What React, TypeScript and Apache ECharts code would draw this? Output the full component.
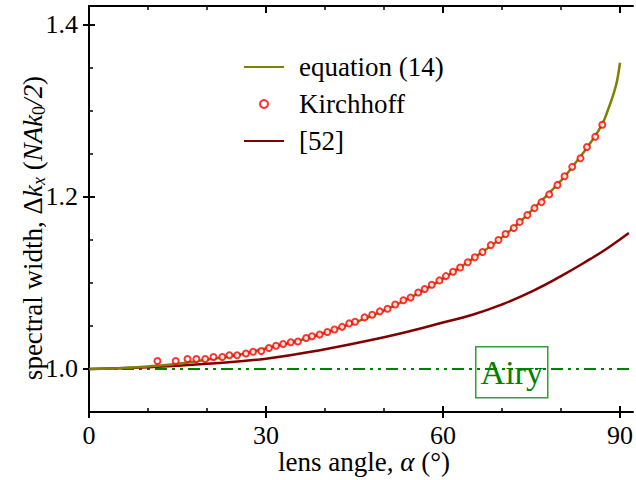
import React, { useEffect, useRef } from "react";
import * as echarts from "echarts";

// ---- data ----
const eqAngle = [0, 5, 10, 15, 20, 25, 30, 35, 40, 45, 50, 55, 60, 65, 70, 75, 80, 82.5, 85, 87, 88, 89, 89.5, 90];
const eqWidth = [1.0, 1.001, 1.003, 1.006, 1.011, 1.016, 1.024, 1.032, 1.042, 1.054, 1.068, 1.085, 1.105, 1.128, 1.153, 1.184, 1.219, 1.24, 1.263, 1.285, 1.302, 1.322, 1.335, 1.356];

const kirchAngle = [11.6, 14.7, 16.7, 18.2, 19.7, 21.1, 22.6, 23.8, 25.1, 26.6, 27.8, 29.2, 30.5, 31.7, 32.9, 34.2, 35.4, 36.8, 37.8, 39.1, 40.4, 41.6, 42.9, 44.1, 45.1, 46.7, 48.0, 49.3, 50.6, 51.9, 53.3, 54.5, 55.8, 56.9, 58.1, 59.4, 60.5, 61.7, 62.9, 64.2, 65.4, 66.7, 68.1, 69.4, 70.6, 72.0, 73.0, 74.3, 75.5, 76.7, 78.0, 79.4, 80.6, 81.9, 83.3, 84.4, 85.8, 87.0];
const kirchWidth = [1.0093, 1.0093, 1.0116, 1.0116, 1.0116, 1.014, 1.014, 1.016, 1.016, 1.018, 1.02, 1.021, 1.0245, 1.027, 1.029, 1.031, 1.032, 1.036, 1.038, 1.04, 1.043, 1.046, 1.049, 1.053, 1.055, 1.06, 1.063, 1.067, 1.07, 1.075, 1.08, 1.083, 1.089, 1.093, 1.098, 1.103, 1.108, 1.113, 1.118, 1.124, 1.13, 1.136, 1.144, 1.15, 1.157, 1.164, 1.171, 1.179, 1.187, 1.194, 1.203, 1.214, 1.224, 1.235, 1.245, 1.258, 1.27, 1.284];

const refAngle = [0, 10, 20, 30, 40, 50, 55, 60, 65, 70, 75, 80, 85, 88, 91.5];
const refWidth = [1.0, 1.002, 1.006, 1.012, 1.023, 1.037, 1.045, 1.054, 1.063, 1.075, 1.09, 1.108, 1.128, 1.141, 1.158];

const airyLevel = 1.0;

const xMajorTicks = [0, 30, 60, 90];
const xMinorTicks = [10, 20, 40, 50, 70, 80];
const yMajorTicks = [1.0, 1.2, 1.4];
const yMinorTicks = [1.05, 1.1, 1.15, 1.25, 1.3, 1.35];

const X_MIN = 0;
const X_MAX = 92.2;
const Y_MIN = 0.95;
const Y_MAX = 1.422;

const FONT = "Liberation Serif, Times New Roman, serif";

export default function App() {
  const ref = useRef<HTMLDivElement>(null);

  useEffect(() => {
    if (!ref.current) return;
    const chart = echarts.init(ref.current, undefined, { renderer: "svg" });

    const black = "#000";
    const xBase = { type: "value", min: X_MIN, max: X_MAX, splitLine: { show: false } };
    const yBase = { type: "value", min: Y_MIN, max: Y_MAX, splitLine: { show: false } };
    const tickLine = (w: number) => ({ color: black, width: w });

    const option: any = {
      animation: false,
      backgroundColor: "#fff",
      grid: { left: 89, top: 6, right: 0, bottom: 68, containLabel: false },
      xAxis: [
        {
          ...xBase,
          position: "bottom",
          axisLine: { show: true, lineStyle: tickLine(2) },
          axisTick: { show: true, inside: false, length: 6, customValues: xMajorTicks, lineStyle: tickLine(2) },
          axisLabel: {
            show: true,
            customValues: xMajorTicks,
            margin: 10,
            color: black,
            fontFamily: FONT,
            fontSize: 26,
            formatter: (v: number) => String(v),
          },
        },
        {
          ...xBase,
          position: "bottom",
          axisLine: { show: false },
          axisTick: { show: true, inside: true, length: 6, customValues: xMajorTicks, lineStyle: tickLine(2) },
          axisLabel: { show: false },
        },
        {
          ...xBase,
          position: "bottom",
          axisLine: { show: false },
          axisTick: { show: true, inside: true, length: 4, customValues: xMinorTicks, lineStyle: tickLine(1.5) },
          axisLabel: { show: false },
        },
        {
          ...xBase,
          position: "top",
          axisLine: { show: true, lineStyle: tickLine(2) },
          axisTick: { show: true, inside: true, length: 7, customValues: xMajorTicks, lineStyle: tickLine(2) },
          axisLabel: { show: false },
        },
        {
          ...xBase,
          position: "top",
          axisLine: { show: false },
          axisTick: { show: true, inside: true, length: 4, customValues: xMinorTicks, lineStyle: tickLine(1.5) },
          axisLabel: { show: false },
        },
      ],
      yAxis: [
        {
          ...yBase,
          position: "left",
          axisLine: { show: true, lineStyle: tickLine(2) },
          axisTick: { show: true, inside: false, length: 6, customValues: yMajorTicks, lineStyle: tickLine(2) },
          axisLabel: {
            show: true,
            customValues: yMajorTicks,
            margin: 11,
            color: black,
            fontFamily: FONT,
            fontSize: 26,
            formatter: (v: number) => v.toFixed(1),
          },
        },
        {
          ...yBase,
          position: "left",
          axisLine: { show: false },
          axisTick: { show: true, inside: true, length: 6, customValues: yMajorTicks, lineStyle: tickLine(2) },
          axisLabel: { show: false },
        },
        {
          ...yBase,
          position: "left",
          axisLine: { show: false },
          axisTick: { show: true, inside: true, length: 4, customValues: yMinorTicks, lineStyle: tickLine(1.5) },
          axisLabel: { show: false },
        },
      ],
      legend: {
        orient: "vertical",
        left: 243,
        top: 52,
        padding: 0,
        itemWidth: 40,
        itemHeight: 8,
        itemGap: 7,
        data: [
          { name: "equation (14)", itemStyle: { opacity: 0 } },
          { name: "Kirchhoff" },
          { name: "[52]", itemStyle: { opacity: 0 } },
        ],
        textStyle: { fontFamily: FONT, fontSize: 27, color: black, lineHeight: 30, padding: [0, 0, 0, 10] },
      },
      series: [
        {
          name: "Airy",
          type: "line",
          data: [
            [X_MIN, airyLevel],
            [X_MAX, airyLevel],
          ],
          symbol: "none",
          lineStyle: { color: "#008000", width: 2, type: [12, 5, 3, 5, 3, 5] },
          z: 1,
        },
        {
          name: "[52]",
          type: "line",
          data: refAngle.map((a, i) => [a, refWidth[i]]),
          symbol: "none",
          smooth: 0.5,
          color: "#800000",
          lineStyle: { color: "#800000", width: 2.5 },
          z: 2,
        },
        {
          name: "equation (14)",
          type: "line",
          data: eqAngle.map((a, i) => [a, eqWidth[i]]),
          symbol: "none",
          smooth: 0.5,
          color: "#808000",
          lineStyle: { color: "#808000", width: 2.5 },
          z: 3,
        },
        {
          name: "Kirchhoff",
          type: "scatter",
          data: kirchAngle.map((a, i) => [a, kirchWidth[i]]),
          symbol: "emptyCircle",
          symbolSize: 6,
          itemStyle: { color: "#ff0000", borderColor: "#ff0000", borderWidth: 1.5 },
          z: 4,
        },
      ],
      graphic: [
        {
          type: "group",
          left: 475,
          top: 346,
          z: 10,
          children: [
            {
              type: "rect",
              shape: { x: 0, y: 0, width: 72, height: 51 },
              style: { fill: "#fff", stroke: "#33a033", lineWidth: 1.5 },
            },
            {
              type: "text",
              x: 36,
              y: 26,
              style: {
                text: "Airy",
                fill: "#008000",
                fontFamily: FONT,
                fontSize: 34,
                align: "center",
                verticalAlign: "middle",
              },
            },
          ],
        },
        {
          type: "text",
          x: 364,
          y: 462,
          style: {
            text: "lens angle, {i|α} (°)",
            fill: black,
            fontFamily: FONT,
            fontSize: 27,
            align: "center",
            verticalAlign: "middle",
            rich: {
              i: { fontFamily: FONT, fontSize: 27, fontStyle: "italic", fill: black },
            },
          },
        },
        {
          type: "text",
          x: 33,
          y: 228,
          rotation: Math.PI / 2,
          style: {
            text: "spectral width, Δ{i|k}{sub|x} ({i|NAk}{sub0|0}{i|/2})",
            fill: black,
            fontFamily: FONT,
            fontSize: 27,
            align: "center",
            verticalAlign: "middle",
            rich: {
              i: { fontFamily: FONT, fontSize: 27, fontStyle: "italic", fill: black },
              sub: { fontFamily: FONT, fontSize: 18, fontStyle: "italic", fill: black, padding: [12, 0, 0, 0] },
              sub0: { fontFamily: FONT, fontSize: 18, fill: black, padding: [12, 0, 0, 0] },
            },
          },
        },
      ],
    };

    chart.setOption(option);
    return () => chart.dispose();
  }, []);

  return (
    <div
      ref={ref}
      style={{ position: "fixed", left: 0, top: 0, width: 636, height: 480, background: "#fff" }}
    />
  );
}
